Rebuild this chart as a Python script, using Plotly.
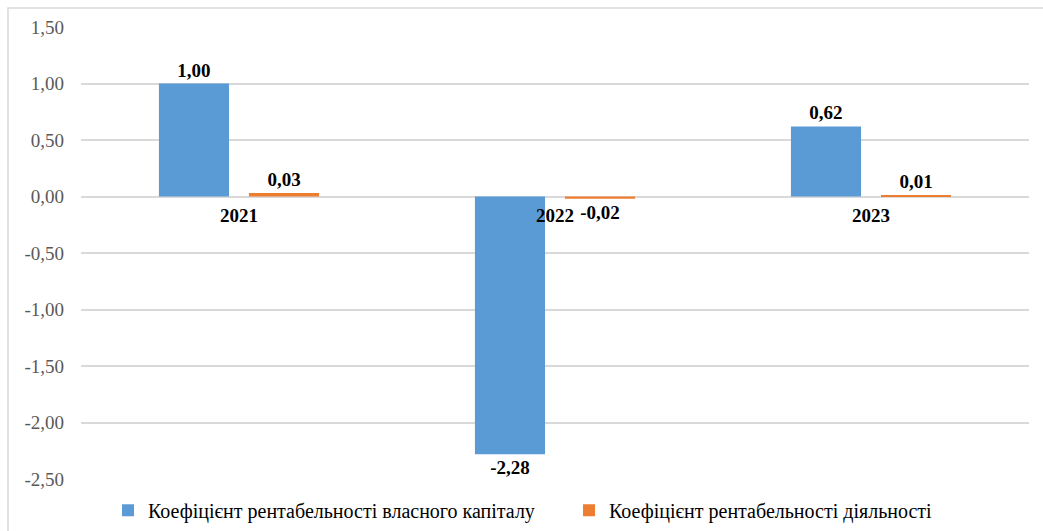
import plotly.graph_objects as go

categories = ["2021", "2022", "2023"]
equity_return = [1.00, -2.28, 0.62]
activity_return = [0.03, -0.02, 0.01]
series_names = ["Коефіцієнт рентабельності власного капіталу",
                "Коефіцієнт рентабельності діяльності"]
y_ticks = [1.5, 1.0, 0.5, 0.0, -0.5, -1.0, -1.5, -2.0, -2.5]
y_tick_text = ["1,50", "1,00", "0,50", "0,00", "-0,50", "-1,00", "-1,50", "-2,00", "-2,50"]


def fmt(v):
    return f"{v:.2f}".replace(".", ",")


FONT = "Liberation Serif, Times New Roman, serif"
W, H = 1043, 531
L, R, T, B = 81, 14, 27, 52
pw, ph = W - L - R, H - T - B

fig = go.Figure()
for name, vals, col in [(series_names[0], equity_return, "#5B9BD5"),
                        (series_names[1], activity_return, "#ED7D31")]:
    fig.add_trace(go.Bar(
        x=categories, y=vals, name=name, marker=dict(color=col, line=dict(width=0)),
        text=[fmt(v) for v in vals], textposition="outside", cliponaxis=False,
        textfont=dict(family=FONT, size=19, color="#000000", weight="bold"),
    ))

ymin, ymax = -2.5, 1.5
zero_pos = (0 - ymin) / (ymax - ymin)

fig.update_layout(
    width=W, height=H,
    margin=dict(l=L, r=R, t=T, b=B, autoexpand=False),
    paper_bgcolor="white", plot_bgcolor="white",
    barmode="group", bargap=0.43, bargroupgap=0.222,
    font=dict(family=FONT, size=17, color="#595959"),
    showlegend=True,
    legend=dict(orientation="h", x=0.0285, xanchor="left", y=-0.069, yanchor="middle",
                font=dict(family=FONT, size=20, color="#000000"),
                entrywidth=416, entrywidthmode="pixels", itemwidth=30),
    xaxis=dict(anchor="free", position=zero_pos, showline=False, showgrid=False,
               ticks="", tickfont=dict(family=FONT, size=19, color="#000000", weight="bold"),
               ticklabelstandoff=5),
    yaxis=dict(range=[ymin, ymax], tickvals=y_ticks, ticktext=y_tick_text,
               showgrid=True, gridcolor="#D9D9D9", gridwidth=1.5,
               zeroline=True, zerolinecolor="#D9D9D9", zerolinewidth=1.5,
               showline=False, ticks="", ticklabelstandoff=16,
               tickfont=dict(family=FONT, size=19, color="#595959")),
    shapes=[dict(type="rect", xref="paper", yref="paper",
                 x0=(8 - L) / pw, x1=1.2, y0=-0.3, y1=1 + (T - 8) / ph,
                 line=dict(color="#D9D9D9", width=1.5), fillcolor="rgba(0,0,0,0)", layer="below")],
)

fig.write_html("out.html")
